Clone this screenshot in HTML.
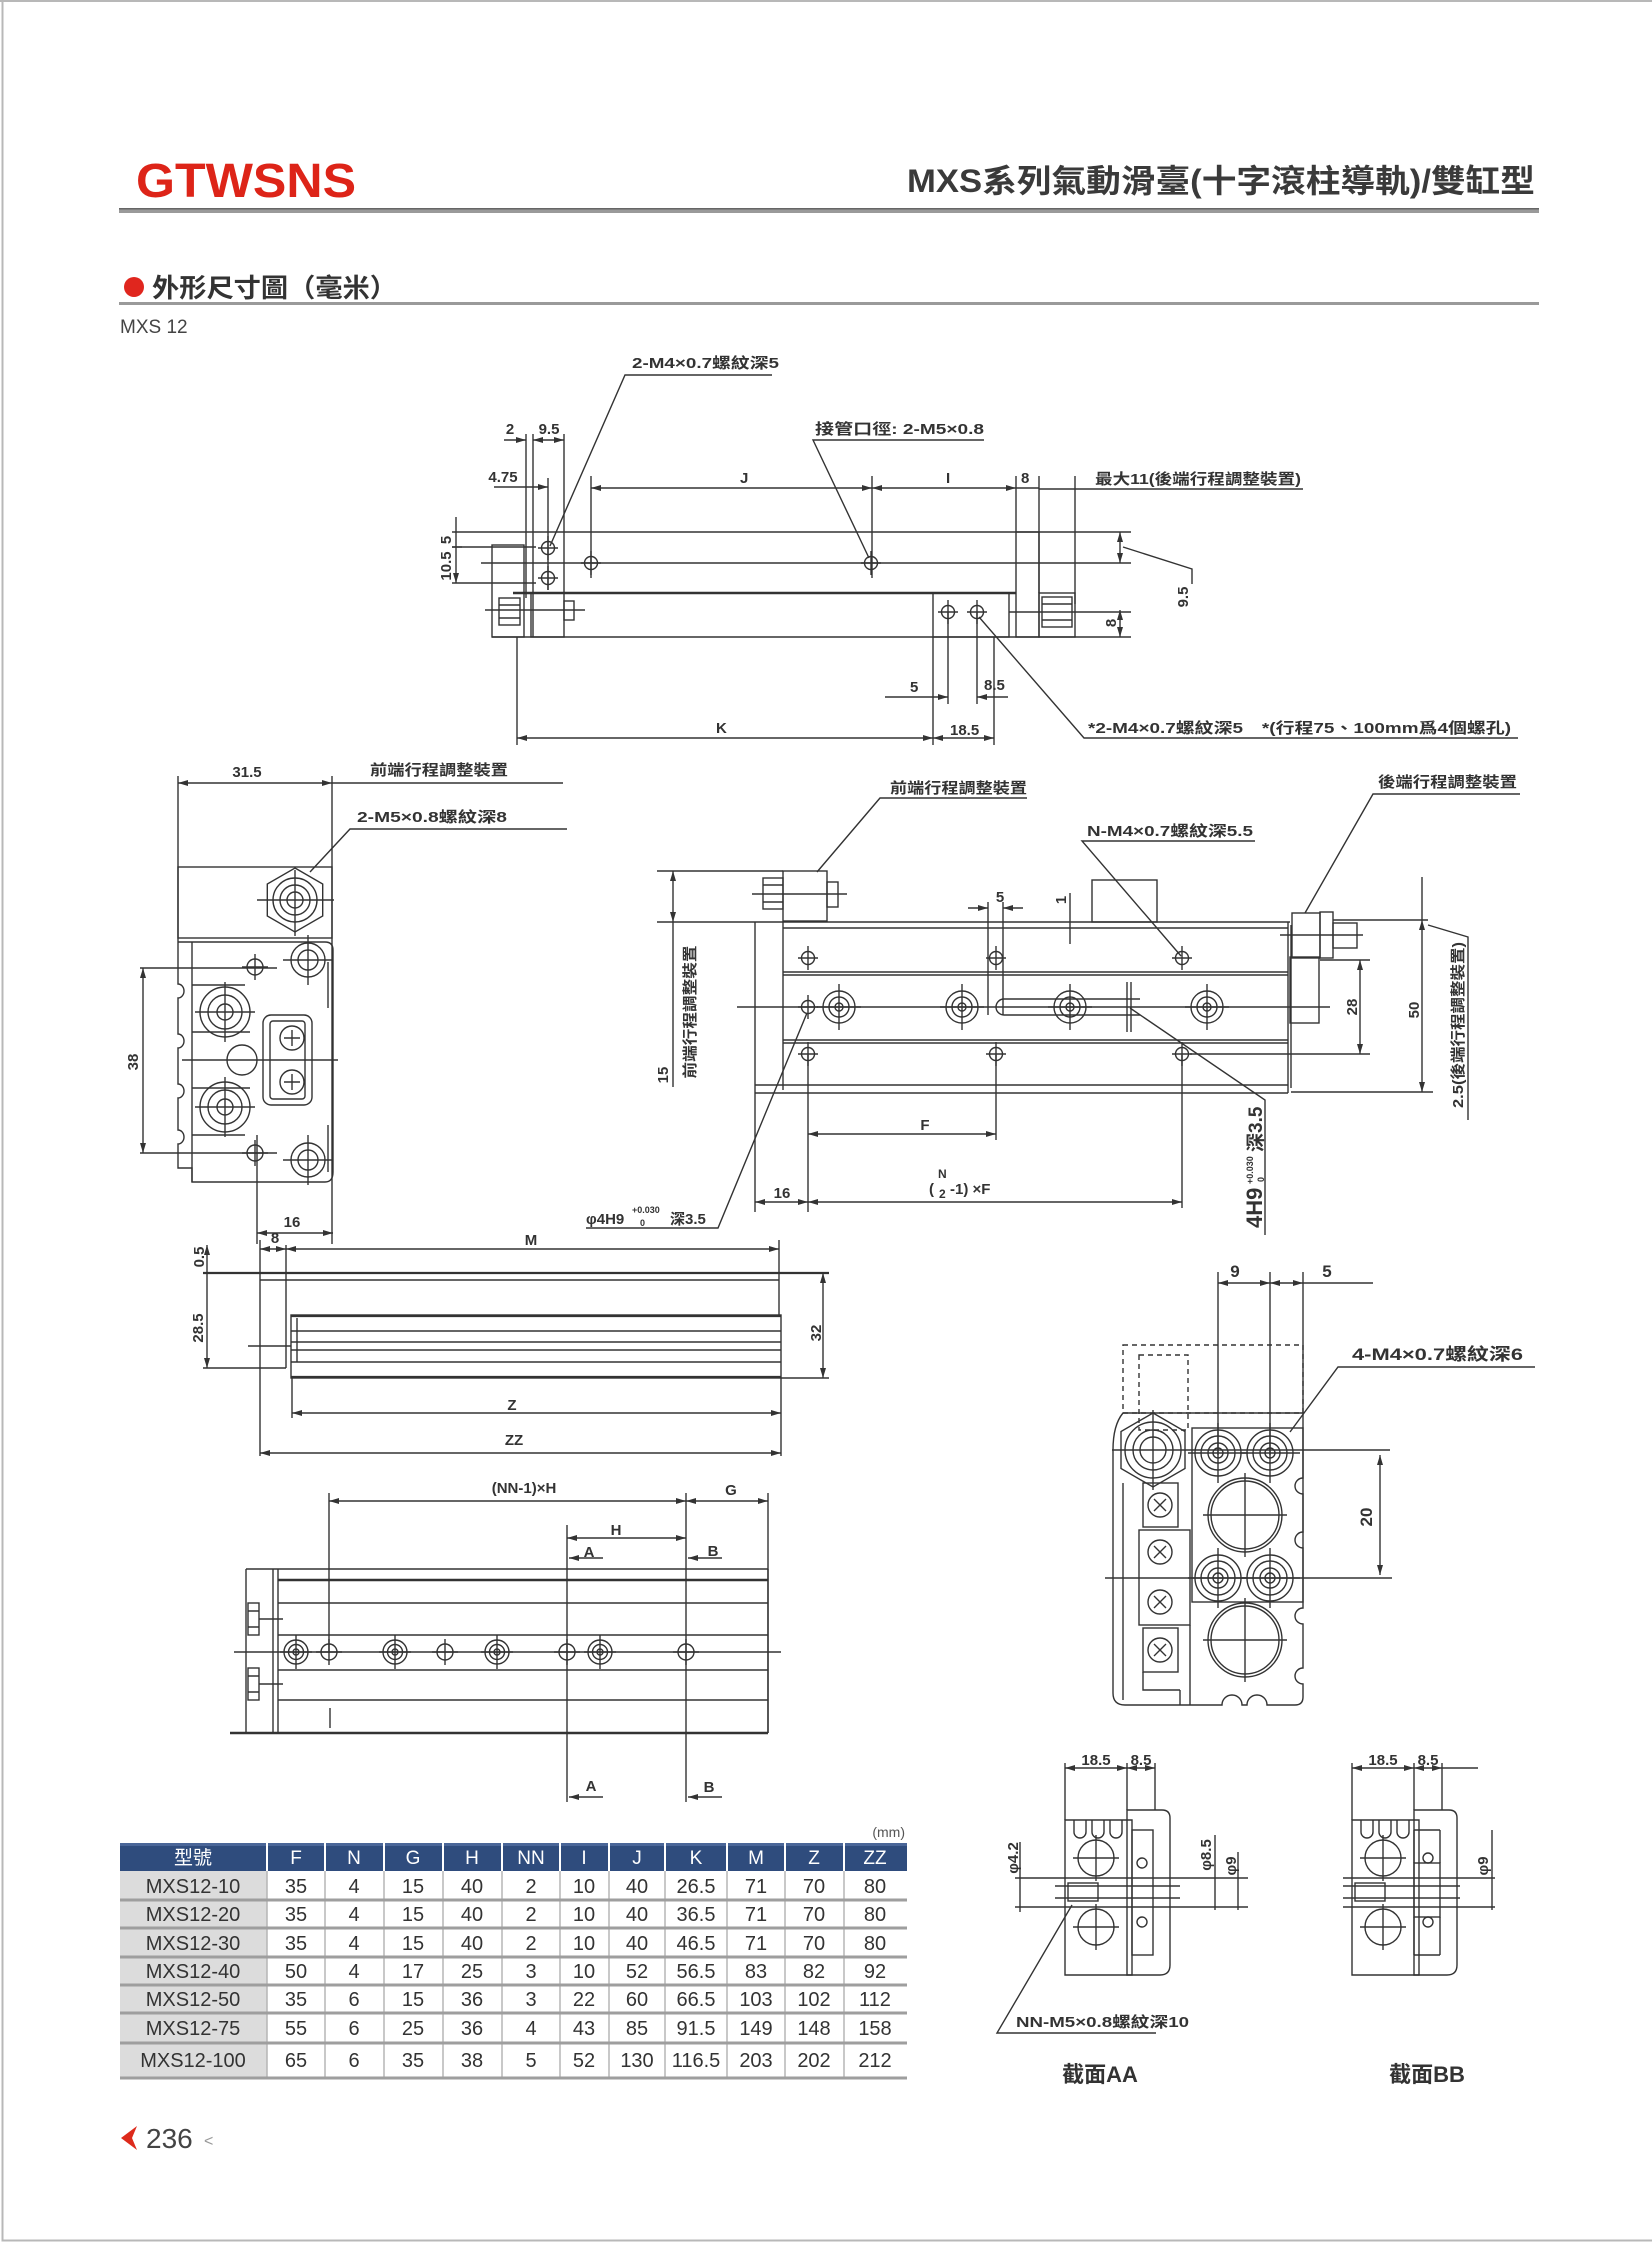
<!DOCTYPE html>
<html><head><meta charset="utf-8">
<style>
html,body{margin:0;padding:0;background:#fff;}
body{width:1652px;height:2243px;overflow:hidden;}
svg{display:block;}
text{font-family:"Liberation Sans","Noto Sans CJK TC",sans-serif;fill:#333;}
.l text,text.l{font-size:15px;font-weight:bold;}
.tb text{font-size:20px;fill:#333;}
.th text{font-size:19px;fill:#ffffff;}
</style></head><body>
<svg width="1652" height="2243" viewBox="0 0 1652 2243" xmlns="http://www.w3.org/2000/svg">
<defs>
<marker id="ar" viewBox="0 0 10 6" refX="10" refY="3" markerWidth="10" markerHeight="6" markerUnits="userSpaceOnUse" orient="auto-start-reverse"><path d="M0,0 L10,3 L0,6 z" fill="#333"/></marker>
<g id="hs" fill="none" stroke="#333" stroke-width="1.4"><circle r="6.5"/><path d="M0 -12V12M-10 0H10"/></g>
<g id="hm" fill="none" stroke="#333" stroke-width="1.4"><circle r="8"/><path d="M0 -13V13M-13 0H13"/></g>
<g id="rg" fill="none" stroke="#333" stroke-width="1.4"><circle r="16"/><circle r="10"/><circle r="4"/><path d="M0 -23V23M-22 0H22"/></g>
<g id="rs" fill="none" stroke="#333" stroke-width="1.4"><circle r="12"/><circle r="7.5"/><circle r="3"/><path d="M0 -17V17M-16 0H16"/></g>
<g id="r4" fill="none" stroke="#333" stroke-width="1.4"><circle r="23"/><circle r="17"/><circle r="10"/><circle r="5"/><path d="M0 -30V30M-30 0H30"/></g>
<g id="xc" fill="none" stroke="#333" stroke-width="1.4"><circle r="12"/><path d="M-6 -6L6 6M6 -6L-6 6"/></g>
</defs>

<!-- page frame -->
<path d="M0 1H1652M2.5 0V2240.5H1652" fill="none" stroke="#b8b8b8" stroke-width="2"/>

<!-- header -->
<text x="136" y="197" font-size="48" font-weight="bold" style="fill:#dd2418" textLength="220" lengthAdjust="spacingAndGlyphs">GTWSNS</text>
<text x="907" y="192" font-size="32" font-weight="bold" textLength="628" lengthAdjust="spacingAndGlyphs" style="fill:#3a3a3a">MXS系列氣動滑臺(十字滾柱導軌)/雙缸型</text>
<rect x="119" y="208" width="1420" height="5" fill="#9a9a9a"/>
<rect x="119" y="208" width="1420" height="1.5" fill="#666"/>
<circle cx="134" cy="287" r="10" fill="#e0261e"/>
<text x="152" y="297" font-size="26" font-weight="bold" textLength="245" lengthAdjust="spacingAndGlyphs">外形尺寸圖（毫米）</text>
<rect x="119" y="302" width="1420" height="3" fill="#9a9a9a"/>
<text x="120" y="333" font-size="19" style="fill:#444">MXS 12</text>

<!-- ================= TOP VIEW ================= -->
<g fill="none" stroke="#333" stroke-width="1.4">
<path d="M526 434V598M533 434V637M564 434V593M548 478V590M591 476V578M872 476V578M1016 476V532M1039 476V593M1075 476V604M517 637V745M933 637V745M994 637V745M948 612V704M977 612V704"/>
<line x1="504" y1="440" x2="526" y2="440" marker-end="url(#ar)"/>
<line x1="533" y1="440" x2="564" y2="440" marker-start="url(#ar)" marker-end="url(#ar)"/>
<line x1="494" y1="487" x2="548" y2="487" marker-end="url(#ar)"/>
<line x1="591" y1="488" x2="872" y2="488" marker-start="url(#ar)" marker-end="url(#ar)"/>
<line x1="872" y1="488" x2="1016" y2="488" marker-start="url(#ar)" marker-end="url(#ar)"/>
<line x1="1016" y1="488" x2="1039" y2="488"/>
<path d="M1039 489H1303"/>
<path d="M452 532H1131M452 547H536M452 583H536M481 563H1131M485 610H585M1009 612H1131M492 637H1131"/>
<path d="M513 593H1016" stroke-width="2.4"/>
<rect x="492" y="545" width="32" height="92"/>
<rect x="531" y="593" width="33" height="44"/>
<rect x="499" y="598" width="21" height="27"/><path d="M499 605H520M499 618H520"/>
<rect x="564" y="601" width="10" height="19"/>
<rect x="1016" y="532" width="23" height="105"/>
<rect x="1039" y="593" width="36" height="44"/>
<rect x="1042" y="597" width="30" height="30"/><path d="M1042 604H1072M1042 620H1072"/>
<rect x="933" y="593" width="76" height="44"/>
<line x1="1120" y1="532" x2="1120" y2="563" marker-start="url(#ar)" marker-end="url(#ar)"/>
<line x1="1120" y1="610" x2="1120" y2="637" marker-start="url(#ar)" marker-end="url(#ar)"/>
<polyline points="1123,547 1192,569 1192,584"/>
<line x1="456" y1="517" x2="456" y2="583" marker-end="url(#ar)"/>
<path d="M452 547H462"/>
<line x1="885" y1="697" x2="948" y2="697" marker-end="url(#ar)"/>
<line x1="1008" y1="697" x2="977" y2="697" marker-end="url(#ar)"/>
<line x1="517" y1="738" x2="933" y2="738" marker-start="url(#ar)" marker-end="url(#ar)"/>
<line x1="933" y1="738" x2="994" y2="738" marker-start="url(#ar)" marker-end="url(#ar)"/>
<path d="M772 375H625L550 546"/>
<path d="M984 440H813L869 558"/>
<path d="M1518 738H1084L979 617"/>
</g>
<use href="#hs" x="548" y="548"/><use href="#hs" x="548" y="578"/><use href="#hs" x="591" y="563"/><use href="#hs" x="871" y="563"/><use href="#hs" x="948" y="612"/><use href="#hs" x="977" y="612"/>
<g class="l">
<text x="510" y="434" text-anchor="middle">2</text>
<text x="549" y="434" text-anchor="middle">9.5</text>
<text x="503" y="482" text-anchor="middle">4.75</text>
<text x="740" y="483">J</text>
<text x="946" y="483">I</text>
<text x="1021" y="483">8</text>
<text x="1095" y="484" textLength="206" lengthAdjust="spacingAndGlyphs">最大11(後端行程調整裝置)</text>
<text x="632" y="368" textLength="147" lengthAdjust="spacingAndGlyphs">2-M4×0.7螺紋深5</text>
<text x="815" y="434" textLength="169" lengthAdjust="spacingAndGlyphs">接管口徑: 2-M5×0.8</text>
<text x="1088" y="733" textLength="423" lengthAdjust="spacingAndGlyphs">*2-M4×0.7螺紋深5　*(行程75、100mm爲4個螺孔)</text>
<text x="910" y="692">5</text>
<text x="984" y="690">8.5</text>
<text x="716" y="733">K</text>
<text x="950" y="735">18.5</text>
<text transform="translate(451,540) rotate(-90)" text-anchor="middle">5</text>
<text transform="translate(451,566) rotate(-90)" text-anchor="middle">10.5</text>
<text transform="translate(1188,597) rotate(-90)" text-anchor="middle">9.5</text>
<text transform="translate(1116,623) rotate(-90)" text-anchor="middle">8</text>
</g>

<!-- ================= LEFT SIDE VIEW ================= -->
<g fill="none" stroke="#333" stroke-width="1.4">
<path d="M178 776V938M332 776V1244M257 1135V1244"/>
<line x1="178" y1="783" x2="332" y2="783" marker-start="url(#ar)" marker-end="url(#ar)"/>
<path d="M332 783H563M567 829H350L310 872"/>
<rect x="178" y="867" width="154" height="71"/>
<polygon points="295,868 322.7,884 322.7,916 295,932 267.3,916 267.3,884"/>
<circle cx="295" cy="900" r="22"/><circle cx="295" cy="900" r="15"/><circle cx="295" cy="900" r="8"/>
<path d="M257 900H334M295 870V936"/>
<path d="M178 938V984A6 7 0 0 1 178 998V1034A6 7 0 0 1 178 1048V1084A6 7 0 0 1 178 1098V1130A6 7 0 0 1 178 1144V1168H192V1182H325Q333 1182 333 1172V950Q333 942 325 942H178"/>
<path d="M192 942V1182M192 985H245M192 1032H250M192 1088H250M192 1135H245M328 962V1008M328 1125V1172"/>
<circle cx="242" cy="1060" r="15"/>
<rect x="263" y="1015" width="49" height="90" rx="8"/>
<rect x="270" y="1021" width="35" height="78" rx="3"/>
<path d="M182 1060H338"/>
<line x1="143" y1="968" x2="143" y2="1153" marker-start="url(#ar)" marker-end="url(#ar)"/>
<path d="M140 968H277M140 1153H277"/>
<line x1="257" y1="1233" x2="333" y2="1233" marker-start="url(#ar)" marker-end="url(#ar)"/>
</g>
<use href="#hm" x="255" y="967"/><use href="#hm" x="255" y="1153"/>
<g fill="none" stroke="#333" stroke-width="1.4">
<circle cx="308" cy="960" r="17"/><circle cx="308" cy="960" r="10"/><path d="M308 935V985M283 960H333"/>
<circle cx="308" cy="1160" r="17"/><circle cx="308" cy="1160" r="10"/><path d="M308 1135V1185M283 1160H333"/>
<circle cx="225" cy="1012" r="25"/><circle cx="225" cy="1012" r="17"/><circle cx="225" cy="1012" r="8"/><path d="M225 982V1042M195 1012H255"/>
<circle cx="225" cy="1107" r="25"/><circle cx="225" cy="1107" r="17"/><circle cx="225" cy="1107" r="8"/><path d="M225 1077V1137M195 1107H255"/>
<circle cx="292" cy="1038" r="12"/><circle cx="292" cy="1082" r="12"/><path d="M292 1030V1046M284 1038H300M292 1074V1090M284 1082H300"/>
</g>
<g class="l">
<text x="247" y="777" text-anchor="middle">31.5</text>
<text x="370" y="775" textLength="138" lengthAdjust="spacingAndGlyphs">前端行程調整裝置</text>
<text x="357" y="822" textLength="150" lengthAdjust="spacingAndGlyphs">2-M5×0.8螺紋深8</text>
<text transform="translate(138,1062) rotate(-90)" text-anchor="middle">38</text>
<text x="292" y="1227" text-anchor="middle">16</text>
</g>

<!-- ================= LEFT MIDDLE (side) ================= -->
<g fill="none" stroke="#333" stroke-width="1.4">
<line x1="207" y1="1245" x2="207" y2="1368" marker-start="url(#ar)" marker-end="url(#ar)"/>
<path d="M203 1273H829" stroke-width="2.2"/>
<path d="M260 1280H779"/>
<path d="M260 1240V1456M286 1245V1368M203 1368H286M779 1240V1315M292 1378V1418M781 1378V1456M781 1378H829M248 1346H291"/>
<line x1="260" y1="1249" x2="286" y2="1249" marker-start="url(#ar)" marker-end="url(#ar)"/>
<line x1="286" y1="1249" x2="779" y2="1249" marker-start="url(#ar)" marker-end="url(#ar)"/>
<rect x="291" y="1315" width="490" height="63"/>
<path d="M291 1316H781M291 1377H781" stroke-width="2.2"/>
<path d="M291 1331H781M291 1342H781M291 1350H781M291 1362H781M297 1318V1362"/>
<line x1="823" y1="1273" x2="823" y2="1378" marker-start="url(#ar)" marker-end="url(#ar)"/>
<line x1="292" y1="1413" x2="781" y2="1413" marker-start="url(#ar)" marker-end="url(#ar)"/>
<line x1="260" y1="1453" x2="781" y2="1453" marker-start="url(#ar)" marker-end="url(#ar)"/>
</g>
<g class="l">
<text transform="translate(204,1257) rotate(-90)" text-anchor="middle">0.5</text>
<text transform="translate(203,1328) rotate(-90)" text-anchor="middle">28.5</text>
<text x="275" y="1243" text-anchor="middle">8</text>
<text x="531" y="1245" text-anchor="middle">M</text>
<text transform="translate(821,1333) rotate(-90)" text-anchor="middle">32</text>
<text x="512" y="1410" text-anchor="middle">Z</text>
<text x="514" y="1445" text-anchor="middle">ZZ</text>
</g>

<!-- ================= BOTTOM LEFT VIEW ================= -->
<g fill="none" stroke="#333" stroke-width="1.4">
<line x1="329" y1="1501" x2="686" y2="1501" marker-start="url(#ar)" marker-end="url(#ar)"/>
<line x1="686" y1="1501" x2="768" y2="1501" marker-start="url(#ar)" marker-end="url(#ar)"/>
<path d="M329 1493V1653M686 1493V1802M768 1493V1733M567 1525V1802"/>
<line x1="567" y1="1538" x2="686" y2="1538" marker-start="url(#ar)" marker-end="url(#ar)"/>
<line x1="603" y1="1558" x2="569" y2="1558" marker-end="url(#ar)"/>
<line x1="722" y1="1558" x2="688" y2="1558" marker-end="url(#ar)"/>
<line x1="603" y1="1797" x2="569" y2="1797" marker-end="url(#ar)"/>
<line x1="722" y1="1797" x2="688" y2="1797" marker-end="url(#ar)"/>
<path d="M246 1569H768M278 1603H768M278 1635H768M234 1652H781M278 1670H768M278 1700H768"/>
<path d="M278 1580H768M230 1733H768" stroke-width="2.4"/>
<path d="M246 1569V1733M273 1569V1733M278 1569V1733M768 1569V1733"/>
<rect x="248" y="1603" width="11" height="32"/><rect x="248" y="1668" width="11" height="32"/>
<path d="M248 1611H259M248 1627H259M248 1676H259M248 1692H259M259 1619H283M259 1684H283M330 1708V1728"/>
</g>
<use href="#rs" x="296" y="1652"/><use href="#rs" x="395" y="1652"/><use href="#rs" x="497" y="1652"/><use href="#rs" x="600" y="1652"/>
<use href="#hm" x="329" y="1652"/><use href="#hm" x="445" y="1652"/><use href="#hm" x="567" y="1652"/><use href="#hm" x="686" y="1652"/>
<g class="l">
<text x="524" y="1493" text-anchor="middle">(NN-1)×H</text>
<text x="731" y="1495" text-anchor="middle">G</text>
<text x="616" y="1535" text-anchor="middle">H</text>
<text x="589" y="1557" text-anchor="middle">A</text>
<text x="713" y="1556" text-anchor="middle">B</text>
<text x="591" y="1791" text-anchor="middle">A</text>
<text x="709" y="1792" text-anchor="middle">B</text>
</g>

<!-- ================= MIDDLE TOP VIEW ================= -->
<g fill="none" stroke="#333" stroke-width="1.4">
<path d="M1027 798H880L817 872"/>
<rect x="783" y="871" width="44" height="50"/>
<rect x="763" y="878" width="20" height="31"/><path d="M763 885H783M763 902H783"/>
<rect x="827" y="882" width="11" height="25"/>
<path d="M752 894H847"/>
<path d="M657 871H783M657 922H1290"/>
<line x1="673" y1="871" x2="673" y2="922" marker-start="url(#ar)" marker-end="url(#ar)"/>
<path d="M673 922V1087"/>
<path d="M755 922V1093M783 922V1090M783 928H1288M783 972H1288M783 975H1288M783 1040H1288M783 1043H1288M755 1085H1288M755 1093H1288M1288 922V1093M1291 925V1088"/>
<rect x="1092" y="880" width="65" height="42"/>
<path d="M1140 999H1004A8 8 0 0 0 1004 1015H1140"/>
<path d="M1127 982V1032M1131 982V1032"/>
<path d="M737 1007H1330"/>
<line x1="968" y1="908" x2="988" y2="908" marker-end="url(#ar)"/>
<line x1="1023" y1="908" x2="1003" y2="908" marker-end="url(#ar)"/>
<path d="M988 902V1015M1003 902V1015M1070 893V944"/>
<line x1="808" y1="1134" x2="996" y2="1134" marker-start="url(#ar)" marker-end="url(#ar)"/>
<path d="M808 1055V1212M996 1055V1140M1182 1055V1208M755 1093V1212"/>
<line x1="755" y1="1202" x2="808" y2="1202" marker-start="url(#ar)" marker-end="url(#ar)"/>
<line x1="808" y1="1202" x2="1182" y2="1202" marker-start="url(#ar)" marker-end="url(#ar)"/>
<path d="M586 1228H718L807 1013"/>
<path d="M1255 841H1082L1181 956"/>
<path d="M1520 794H1373L1305 913"/>
<rect x="1292" y="913" width="28" height="45"/>
<rect x="1320" y="912" width="13" height="46"/>
<rect x="1333" y="923" width="24" height="25"/>
<path d="M1280 935H1363"/>
<rect x="1290" y="957" width="29" height="66"/>
<line x1="1360" y1="960" x2="1360" y2="1054" marker-start="url(#ar)" marker-end="url(#ar)"/>
<path d="M1320 960H1370M1190 1054H1370"/>
<path d="M1422 877V920"/>
<line x1="1422" y1="920" x2="1422" y2="1092" marker-start="url(#ar)" marker-end="url(#ar)"/>
<path d="M1333 920H1428M1291 1092H1433"/>
<path d="M1428 925L1468 937V1120"/>
<path d="M1130 1008L1265 1100V1235"/>
</g>
<use href="#hs" x="808" y="958"/><use href="#hs" x="996" y="958"/><use href="#hs" x="1182" y="958"/>
<use href="#hs" x="808" y="1054"/><use href="#hs" x="996" y="1054"/><use href="#hs" x="1182" y="1054"/>
<use href="#hs" x="808" y="1007"/>
<use href="#rg" x="839" y="1007"/><use href="#rg" x="962" y="1007"/><use href="#rg" x="1070" y="1007"/><use href="#rg" x="1207" y="1007"/>
<g class="l">
<text x="890" y="793" textLength="137" lengthAdjust="spacingAndGlyphs">前端行程調整裝置</text>
<text transform="translate(668,1075) rotate(-90)" text-anchor="middle">15</text>
<text transform="translate(695,1012) rotate(-90)" text-anchor="middle" textLength="133" lengthAdjust="spacingAndGlyphs">前端行程調整裝置</text>
<text x="1000" y="902" text-anchor="middle">5</text>
<text transform="translate(1066,900) rotate(-90)" text-anchor="middle">1</text>
<text x="925" y="1130" text-anchor="middle">F</text>
<text x="782" y="1198" text-anchor="middle">16</text>
<text x="929" y="1194">(</text>
<text x="938" y="1178" style="font-size:12px">N</text>
<text x="939" y="1198" style="font-size:12px">2</text>
<text x="950" y="1194">-1) ×F</text>
<text x="586" y="1224">φ4H9</text>
<text x="632" y="1213" style="font-size:9px">+0.030</text>
<text x="640" y="1226" style="font-size:9px">0</text>
<text x="670" y="1224">深3.5</text>
<text x="1087" y="836" textLength="166" lengthAdjust="spacingAndGlyphs">N-M4×0.7螺紋深5.5</text>
<text x="1378" y="787" textLength="139" lengthAdjust="spacingAndGlyphs">後端行程調整裝置</text>
<text transform="translate(1357,1007) rotate(-90)" text-anchor="middle">28</text>
<text transform="translate(1419,1010) rotate(-90)" text-anchor="middle">50</text>
<text transform="translate(1463,1025) rotate(-90)" text-anchor="middle" textLength="166" lengthAdjust="spacingAndGlyphs">2.5(後端行程調整裝置)</text>
</g>
<g transform="translate(1262,1228) rotate(-90)" font-weight="bold">
<text x="0" y="0" style="font-size:22px">4H9</text>
<text x="44" y="-9" style="font-size:9px">+0.030</text>
<text x="46" y="2" style="font-size:9px">0</text>
<text x="76" y="0" style="font-size:19px">深3.5</text>
</g>

<!-- ================= RIGHT END VIEW ================= -->
<g fill="none" stroke="#333" stroke-width="1.4">
<path d="M1218 1272V1455M1270 1272V1455M1303 1272V1413"/>
<line x1="1218" y1="1283" x2="1270" y2="1283" marker-start="url(#ar)" marker-end="url(#ar)"/>
<line x1="1270" y1="1283" x2="1303" y2="1283" marker-start="url(#ar)" marker-end="url(#ar)"/>
<path d="M1303 1283H1373"/>
<rect x="1123" y="1345" width="180" height="68" stroke-dasharray="5 4"/>
<rect x="1139" y="1355" width="49" height="75" stroke-dasharray="5 4"/>
<path d="M1535 1367H1338L1290 1432"/>
<path d="M1123 1413H1303V1478A8 8 0 0 0 1303 1494V1532A8 8 0 0 0 1303 1548V1608A8 8 0 0 0 1303 1624V1668A8 8 0 0 0 1303 1684V1697Q1303 1705 1295 1705H1267A10 10 0 0 0 1247 1705H1242A10 10 0 0 0 1222 1705H1125Q1113 1705 1113 1693V1450Q1113 1425 1123 1413Z"/>
<path d="M1123 1483V1700M1180 1690V1705M1190 1625V1705"/>
<rect x="1192" y="1428" width="111" height="174"/>
<rect x="1143" y="1483" width="35" height="44"/>
<rect x="1139" y="1530" width="51" height="95"/>
<rect x="1143" y="1628" width="35" height="44"/>
<path d="M1143 1672V1690H1180"/>
<polygon points="1153,1413 1185,1431.5 1185,1468.5 1153,1487 1121,1468.5 1121,1431.5"/>
<circle cx="1153" cy="1450" r="28"/><circle cx="1153" cy="1450" r="20"/><circle cx="1153" cy="1450" r="13"/>
<circle cx="1245" cy="1515" r="37"/><circle cx="1245" cy="1515" r="34"/><path d="M1245 1473V1557M1203 1515H1287"/>
<circle cx="1245" cy="1640" r="37"/><circle cx="1245" cy="1640" r="34"/><path d="M1245 1598V1682M1203 1640H1287"/>
<path d="M1112 1450H1390M1105 1578H1392M1153 1410V1490"/>
<line x1="1380" y1="1455" x2="1380" y2="1575" marker-start="url(#ar)" marker-end="url(#ar)"/>
</g>
<use href="#r4" x="1218" y="1453"/><use href="#r4" x="1270" y="1453"/><use href="#r4" x="1218" y="1578"/><use href="#r4" x="1270" y="1578"/>
<use href="#xc" x="1160" y="1505"/><use href="#xc" x="1160" y="1552"/><use href="#xc" x="1160" y="1602"/><use href="#xc" x="1160" y="1650"/>
<g class="l">
<text x="1235" y="1277" text-anchor="middle" style="font-size:17px">9</text>
<text x="1327" y="1277" text-anchor="middle" style="font-size:17px">5</text>
<text x="1352" y="1360" textLength="171" lengthAdjust="spacingAndGlyphs" style="font-size:17px">4-M4×0.7螺紋深6</text>
<text transform="translate(1372,1517) rotate(-90)" text-anchor="middle" style="font-size:17px">20</text>
</g>

<!-- ================= SECTION AA ================= -->
<g id="secA" fill="none" stroke="#333" stroke-width="1.4">
<path d="M1065 1763V1820M1127 1763V1810M1155 1763V1810"/>
<line x1="1065" y1="1768" x2="1127" y2="1768" marker-start="url(#ar)" marker-end="url(#ar)"/>
<line x1="1127" y1="1768" x2="1155" y2="1768" marker-start="url(#ar)" marker-end="url(#ar)"/>
<path d="M1065 1820H1132V1975H1065Z"/>
<path d="M1074 1820v12a6 6 0 0 0 12 0v-12M1092 1820v12a6 6 0 0 0 12 0v-12M1110 1820v12a6 6 0 0 0 12 0v-12"/>
<path d="M1127 1810H1162Q1170 1810 1170 1818V1965Q1170 1975 1160 1975H1127Z"/>
<circle cx="1096" cy="1858" r="18"/><path d="M1096 1835V1881M1073 1858H1119"/>
<circle cx="1096" cy="1927" r="18"/><path d="M1096 1904V1950M1073 1927H1119"/>
<rect x="1068" y="1883" width="30" height="18"/>
</g>
<g fill="none" stroke="#333" stroke-width="1.4">
<rect x="1132" y="1830" width="21" height="125"/>
<circle cx="1142" cy="1863" r="5"/><circle cx="1142" cy="1922" r="5"/>
<path d="M1015 1878H1248M1015 1907H1248M1055 1886H1180M1055 1898H1180"/>
<path d="M1020 1842V1912M1215 1835V1910M1238 1852V1910"/>
<path d="M1156 2033H997L1072 1905"/>
</g>
<g class="l">
<text x="1096" y="1765" text-anchor="middle">18.5</text>
<text x="1141" y="1765" text-anchor="middle">8.5</text>
<text transform="translate(1018,1858) rotate(-90)" text-anchor="middle">φ4.2</text>
<text transform="translate(1211,1855) rotate(-90)" text-anchor="middle">φ8.5</text>
<text transform="translate(1236,1866) rotate(-90)" text-anchor="middle">φ9</text>
<text x="1016" y="2027" textLength="173" lengthAdjust="spacingAndGlyphs">NN-M5×0.8螺紋深10</text>
</g>
<text x="1100" y="2082" text-anchor="middle" font-size="22" font-weight="bold">截面AA</text>

<!-- ================= SECTION BB ================= -->
<use href="#secA" x="287" y="0"/>
<g fill="none" stroke="#333" stroke-width="1.4">
<path d="M1442 1768H1478"/>
<rect x="1414" y="1863" width="26" height="54"/>
<path d="M1414 1830V1863M1440 1830V1863M1414 1917V1955M1440 1917V1955M1414 1830H1440M1414 1955H1440"/>
<circle cx="1428" cy="1858" r="5"/><circle cx="1428" cy="1922" r="5"/>
<path d="M1343 1878H1495M1343 1907H1495M1343 1886H1460M1343 1898H1460"/>
<path d="M1492 1830V1910"/>
</g>
<g class="l">
<text x="1383" y="1765" text-anchor="middle">18.5</text>
<text x="1428" y="1765" text-anchor="middle">8.5</text>
<text transform="translate(1488,1866) rotate(-90)" text-anchor="middle">φ9</text>
</g>
<text x="1427" y="2082" text-anchor="middle" font-size="22" font-weight="bold">截面BB</text>

<!-- ================= TABLE ================= -->
<text x="905" y="1837" text-anchor="end" font-size="14" style="fill:#555">(mm)</text>
<rect x="120" y="1843" width="787" height="28" fill="#2f4c7d"/>
<rect x="120" y="1843" width="787" height="3" fill="#4a6698"/>
<rect x="120" y="1871" width="147" height="207" fill="#dcdcdc"/>
<g stroke="#fff" stroke-width="2">
<path d="M267 1843V1871M325 1843V1871M384 1843V1871M443 1843V1871M502 1843V1871M560 1843V1871M609 1843V1871M665 1843V1871M727 1843V1871M785 1843V1871M844 1843V1871"/>
</g>
<g stroke="#b5b5b5" stroke-width="1.5">
<path d="M267 1871V2078M325 1871V2078M384 1871V2078M443 1871V2078M502 1871V2078M560 1871V2078M609 1871V2078M665 1871V2078M727 1871V2078M785 1871V2078M844 1871V2078"/>
</g>
<g stroke="#9e9e9e" stroke-width="3">
<path d="M120 1900H907M120 1928H907M120 1957H907M120 1985H907M120 2013H907M120 2043H907M120 2078H907"/>
</g>
<g class="th" text-anchor="middle">
<text x="193" y="1864">型號</text><text x="296" y="1864">F</text><text x="354" y="1864">N</text><text x="413" y="1864">G</text><text x="472" y="1864">H</text><text x="531" y="1864">NN</text><text x="584" y="1864">I</text><text x="637" y="1864">J</text><text x="696" y="1864">K</text><text x="756" y="1864">M</text><text x="814" y="1864">Z</text><text x="875" y="1864">ZZ</text>
</g>
<g class="tb" text-anchor="middle">
<text x="193" y="1893">MXS12-10</text><text x="296" y="1893">35</text><text x="354" y="1893">4</text><text x="413" y="1893">15</text><text x="472" y="1893">40</text><text x="531" y="1893">2</text><text x="584" y="1893">10</text><text x="637" y="1893">40</text><text x="696" y="1893">26.5</text><text x="756" y="1893">71</text><text x="814" y="1893">70</text><text x="875" y="1893">80</text>
<text x="193" y="1921">MXS12-20</text><text x="296" y="1921">35</text><text x="354" y="1921">4</text><text x="413" y="1921">15</text><text x="472" y="1921">40</text><text x="531" y="1921">2</text><text x="584" y="1921">10</text><text x="637" y="1921">40</text><text x="696" y="1921">36.5</text><text x="756" y="1921">71</text><text x="814" y="1921">70</text><text x="875" y="1921">80</text>
<text x="193" y="1950">MXS12-30</text><text x="296" y="1950">35</text><text x="354" y="1950">4</text><text x="413" y="1950">15</text><text x="472" y="1950">40</text><text x="531" y="1950">2</text><text x="584" y="1950">10</text><text x="637" y="1950">40</text><text x="696" y="1950">46.5</text><text x="756" y="1950">71</text><text x="814" y="1950">70</text><text x="875" y="1950">80</text>
<text x="193" y="1978">MXS12-40</text><text x="296" y="1978">50</text><text x="354" y="1978">4</text><text x="413" y="1978">17</text><text x="472" y="1978">25</text><text x="531" y="1978">3</text><text x="584" y="1978">10</text><text x="637" y="1978">52</text><text x="696" y="1978">56.5</text><text x="756" y="1978">83</text><text x="814" y="1978">82</text><text x="875" y="1978">92</text>
<text x="193" y="2006">MXS12-50</text><text x="296" y="2006">35</text><text x="354" y="2006">6</text><text x="413" y="2006">15</text><text x="472" y="2006">36</text><text x="531" y="2006">3</text><text x="584" y="2006">22</text><text x="637" y="2006">60</text><text x="696" y="2006">66.5</text><text x="756" y="2006">103</text><text x="814" y="2006">102</text><text x="875" y="2006">112</text>
<text x="193" y="2035">MXS12-75</text><text x="296" y="2035">55</text><text x="354" y="2035">6</text><text x="413" y="2035">25</text><text x="472" y="2035">36</text><text x="531" y="2035">4</text><text x="584" y="2035">43</text><text x="637" y="2035">85</text><text x="696" y="2035">91.5</text><text x="756" y="2035">149</text><text x="814" y="2035">148</text><text x="875" y="2035">158</text>
<text x="193" y="2067">MXS12-100</text><text x="296" y="2067">65</text><text x="354" y="2067">6</text><text x="413" y="2067">35</text><text x="472" y="2067">38</text><text x="531" y="2067">5</text><text x="584" y="2067">52</text><text x="637" y="2067">130</text><text x="696" y="2067">116.5</text><text x="756" y="2067">203</text><text x="814" y="2067">202</text><text x="875" y="2067">212</text>
</g>

<!-- ================= FOOTER ================= -->
<polygon points="137,2126 121,2138 137,2150 132,2138" fill="#dd2a1b"/>
<text x="146" y="2148" font-size="28" style="fill:#444">236</text>
<text x="204" y="2146" font-size="16" style="fill:#999">&lt;</text>
</svg>
</body></html>
